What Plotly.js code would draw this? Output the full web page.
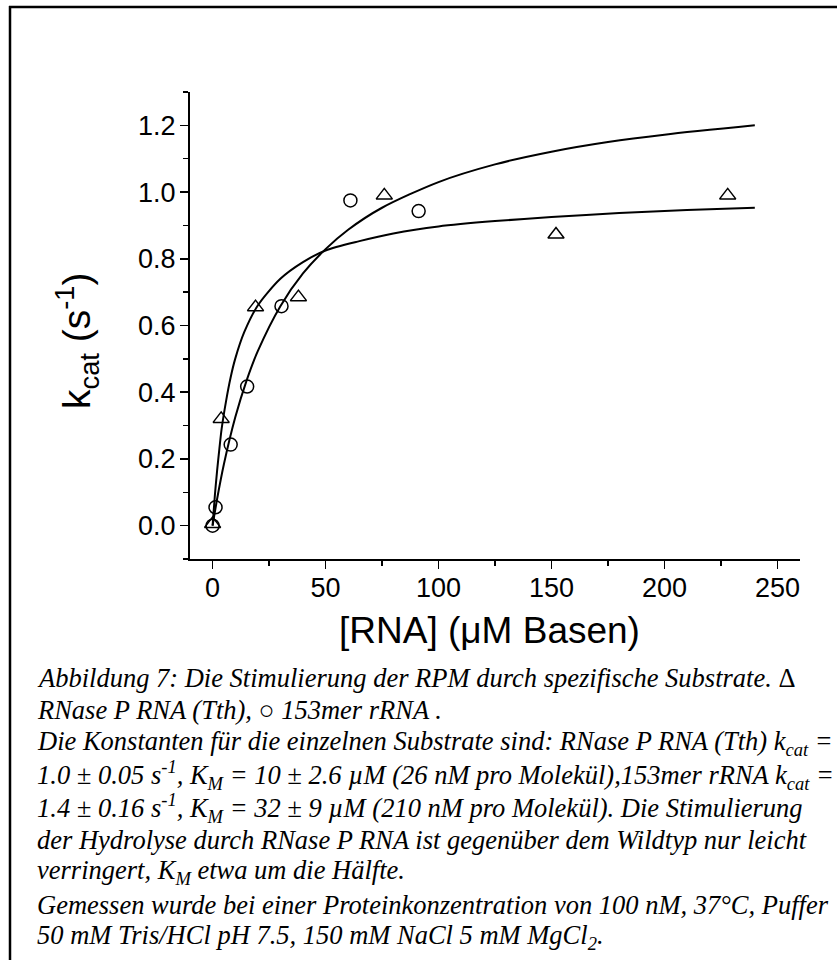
<!DOCTYPE html>
<html>
<head>
<meta charset="utf-8">
<script src="https://cdn.plot.ly/plotly-3.0.1.min.js"></script>
<style>
  html, body { margin: 0; padding: 0; background: #ffffff; }
  #chart { width: 837px; height: 960px; }
</style>
</head>
<body>
<div id="chart"></div>
<script>
// Measured rates: RNase P RNA (Tth), triangles
var tthConc = [0, 3.8, 19, 38, 76, 152, 228];
var tthRate = [0.005, 0.32, 0.655, 0.685, 0.99, 0.873, 0.99];

// Measured rates: 153mer rRNA, circles
var rrnaConc = [0, 1.3, 8, 15.3, 30.5, 61, 91.2];
var rrnaRate = [0.0, 0.055, 0.243, 0.417, 0.658, 0.975, 0.943];

// Fitted saturation curve, RNase P RNA (Tth)
var tthFitConc = [0, 1, 2, 3, 4, 6, 8, 10, 14, 20, 30, 40, 50, 65, 80, 100, 125, 150, 180, 210, 240];
var tthFitRate = [0, 0.09, 0.165, 0.23, 0.29, 0.375, 0.445, 0.50, 0.58, 0.66, 0.74, 0.79, 0.825, 0.853, 0.876, 0.897, 0.913, 0.925, 0.937, 0.946, 0.953];

// Fitted saturation curve, 153mer rRNA
var rrnaFitConc = [0, 2, 5, 10, 15, 20, 30, 40, 50, 60, 75, 100, 125, 150, 175, 200, 240];
var rrnaFitRate = [0, 0.08, 0.184, 0.324, 0.434, 0.523, 0.658, 0.756, 0.829, 0.887, 0.953, 1.03, 1.083, 1.121, 1.15, 1.172, 1.2];

// Axis ticks
var xTickVals = [0, 50, 100, 150, 200, 250];
var yTickVals = [0.0, 0.2, 0.4, 0.6, 0.8, 1.0, 1.2];
var yTickText = ['0.0', '0.2', '0.4', '0.6', '0.8', '1.0', '1.2'];

// Axis titles
var xTitle = '[RNA] (μM Basen)';
var yTitle = 'k<sub>cat</sub> (s<sup>-1</sup>)';

// Caption lines below the chart
var captionLines = [
  '<i>Abbildung 7: Die Stimulierung der RPM durch spezifische Substrate.</i> Δ',
  '<i>RNase P RNA (Tth), ○ 153mer rRNA .</i>',
  '<i>Die Konstanten für die einzelnen Substrate sind: RNase P RNA (Tth) k<sub>cat</sub> =</i>',
  '<i>1.0 ± 0.05 s<sup>-1</sup>, K<sub>M</sub> = 10 ± 2.6 µM (26 nM pro Molekül),153mer rRNA k<sub>cat</sub> =</i>',
  '<i>1.4 ± 0.16 s<sup>-1</sup>, K<sub>M</sub> = 32 ± 9 µM (210 nM pro Molekül). Die Stimulierung</i>',
  '<i>der Hydrolyse durch RNase P RNA ist gegenüber dem Wildtyp nur leicht</i>',
  '<i>verringert, K<sub>M</sub> etwa um die Hälfte.</i>',
  '<i>Gemessen wurde bei einer Proteinkonzentration von 100 nM, 37°C, Puffer</i>',
  '<i>50 mM Tris/HCl pH 7.5, 150 mM NaCl 5 mM MgCl<sub>2</sub>.</i>'
];

// Page geometry (pixels)
var W = 837, H = 960;
var M = {l: 190, r: 37, t: 92, b: 401};
var plotW = W - M.l - M.r, plotH = H - M.t - M.b;
function px2x(px) { return (px - M.l) / plotW; }
function px2y(py) { return (H - M.b - py) / plotH; }

var sans = 'Arial, "Liberation Sans", sans-serif';
var serif = '"Times New Roman", "Liberation Serif", serif';

var traces = [
  {
    x: tthFitConc, y: tthFitRate, type: 'scatter', mode: 'lines',
    line: {color: '#000', width: 2, shape: 'spline', smoothing: 0.8},
    hoverinfo: 'skip', showlegend: false
  },
  {
    x: rrnaFitConc, y: rrnaFitRate, type: 'scatter', mode: 'lines',
    line: {color: '#000', width: 2, shape: 'spline', smoothing: 0.8},
    hoverinfo: 'skip', showlegend: false
  },
  {
    x: tthConc, y: tthRate, type: 'scatter', mode: 'markers', name: 'RNase P RNA (Tth)',
    marker: {symbol: 'triangle-up-open', size: 14, color: '#000', line: {color: '#000', width: 1.5}},
    cliponaxis: false, showlegend: false
  },
  {
    x: rrnaConc, y: rrnaRate, type: 'scatter', mode: 'markers', name: '153mer rRNA',
    marker: {symbol: 'circle-open', size: 13, color: '#000', line: {color: '#000', width: 1.5}},
    cliponaxis: false, showlegend: false
  }
];

var annotations = captionLines.map(function (t, i) {
  var baseline = 687 + 32.4 * i;
  return {
    xref: 'paper', yref: 'paper',
    x: px2x(35), y: px2y(baseline - 9),
    xanchor: 'left', yanchor: 'middle', align: 'left',
    showarrow: false, text: t,
    font: {family: serif, size: 26.5, color: '#000'}
  };
});

// Axis titles placed as annotations
annotations.push({
  xref: 'paper', yref: 'paper', x: px2x(489), y: px2y(630),
  xanchor: 'center', yanchor: 'middle', showarrow: false,
  text: xTitle, font: {family: sans, size: 37, color: '#000'}
});
annotations.push({
  xref: 'paper', yref: 'paper', x: px2x(77), y: px2y(341),
  xanchor: 'center', yanchor: 'middle', showarrow: false, textangle: -90,
  text: yTitle, font: {family: sans, size: 39, color: '#000'}
});

var layout = {
  width: W, height: H,
  margin: M,
  paper_bgcolor: '#fff', plot_bgcolor: '#fff',
  showlegend: false,
  xaxis: {
    range: [-10, 260],
    showline: true, linecolor: '#000', linewidth: 2,
    zeroline: false, showgrid: false,
    ticks: 'outside', ticklen: 8, tickwidth: 1.6, tickcolor: '#000',
    tickvals: xTickVals,
    minor: {dtick: 25, tick0: 0, ticks: 'outside', ticklen: 5, tickwidth: 1.4, tickcolor: '#000', showgrid: false},
    tickfont: {family: sans, size: 27, color: '#000'},
    ticklabelstandoff: -4
  },
  yaxis: {
    range: [-0.1, 1.3],
    showline: true, linecolor: '#000', linewidth: 2,
    zeroline: false, showgrid: false,
    ticks: 'outside', ticklen: 8, tickwidth: 1.6, tickcolor: '#000',
    tickvals: yTickVals, ticktext: yTickText,
    minor: {dtick: 0.1, tick0: 0, ticks: 'outside', ticklen: 5, tickwidth: 1.4, tickcolor: '#000', showgrid: false},
    tickfont: {family: sans, size: 27, color: '#000'},
    ticklabelstandoff: -1
  },
  shapes: [
    {type: 'line', xref: 'paper', yref: 'paper', x0: px2x(10), x1: px2x(10), y0: px2y(6), y1: px2y(980), line: {color: '#000', width: 2.5}},
    {type: 'line', xref: 'paper', yref: 'paper', x0: px2x(9), x1: px2x(860), y0: px2y(7), y1: px2y(7), line: {color: '#000', width: 2.5}}
  ],
  annotations: annotations
};

Plotly.newPlot('chart', traces, layout, {displayModeBar: false, staticPlot: true});
</script>
</body>
</html>
